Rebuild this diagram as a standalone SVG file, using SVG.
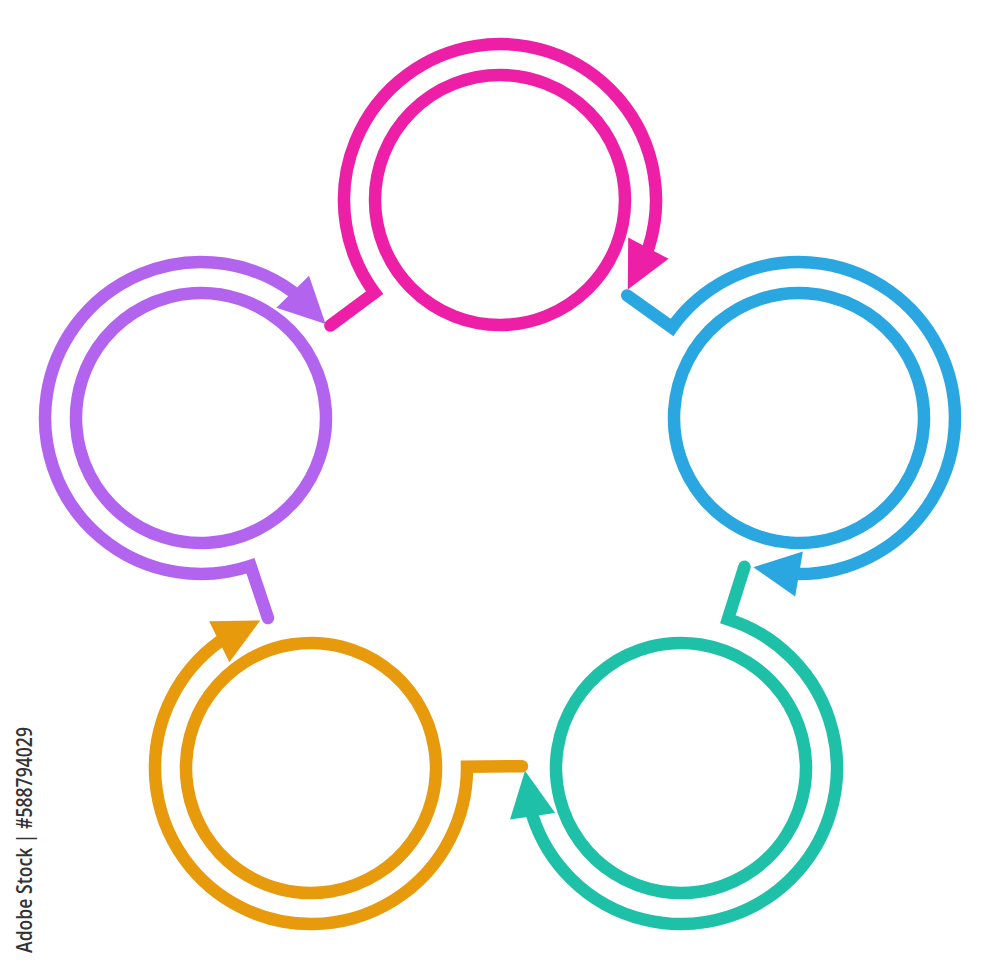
<svg xmlns="http://www.w3.org/2000/svg" xmlns:xlink="http://www.w3.org/1999/xlink" width="1000" height="968" viewBox="0 0 1000 968">
  <style>
    .ring { fill: none; stroke-width: 12.5; }
    .flow { fill: none; stroke-width: 12.5; stroke-linecap: round; stroke-linejoin: miter; stroke-miterlimit: 10; }
    .pink { stroke: #EC1FA6; fill: #EC1FA6; }
    .blue { stroke: #2AA7E0; fill: #2AA7E0; }
    .teal { stroke: #1FC0A8; fill: #1FC0A8; }
    .orange { stroke: #E69A0C; fill: #E69A0C; }
    .purple { stroke: #B264EE; fill: #B264EE; }
    .mark { font-family: "Open Sans", "Liberation Sans", sans-serif; font-size: 22px; font-weight: 600; fill: #333333; }
  </style>
  <defs>
    <circle id="inner" cx="0" cy="0" r="125"/>
    <path id="arc" d="M -169.6 125.5 L -125.4 92.8 A 156 156 0 1 1 148.4 48.2"/>
    <polygon id="head" points="127.8,89.5 128.2,37.6 168.6,58.8"/>
  </defs>
  <rect width="1000" height="968" fill="#ffffff"/>

  <g id="node-top" class="pink" transform="translate(500,200) rotate(0)">
    <use xlink:href="#inner" class="ring"/>
    <use xlink:href="#arc" class="flow"/>
    <use xlink:href="#head" stroke="none"/>
  </g>

  <g id="node-right" class="blue" transform="translate(799,418) rotate(72)">
    <use xlink:href="#inner" class="ring"/>
    <use xlink:href="#arc" class="flow"/>
    <use xlink:href="#head" stroke="none"/>
  </g>

  <g id="node-bottom-right" class="teal" transform="translate(681,768) rotate(144)">
    <use xlink:href="#inner" class="ring"/>
    <use xlink:href="#arc" class="flow"/>
    <use xlink:href="#head" stroke="none"/>
  </g>

  <g id="node-bottom-left" class="orange" transform="translate(311,768) rotate(216)">
    <use xlink:href="#inner" class="ring"/>
    <use xlink:href="#arc" class="flow"/>
    <use xlink:href="#head" stroke="none"/>
  </g>

  <g id="node-left" class="purple" transform="translate(201,418) rotate(288)">
    <use xlink:href="#inner" class="ring"/>
    <use xlink:href="#arc" class="flow"/>
    <use xlink:href="#head" stroke="none"/>
  </g>

  <text class="mark" transform="translate(32,953) rotate(-90)" textLength="226" lengthAdjust="spacingAndGlyphs">Adobe Stock | #588794029</text>
</svg>
